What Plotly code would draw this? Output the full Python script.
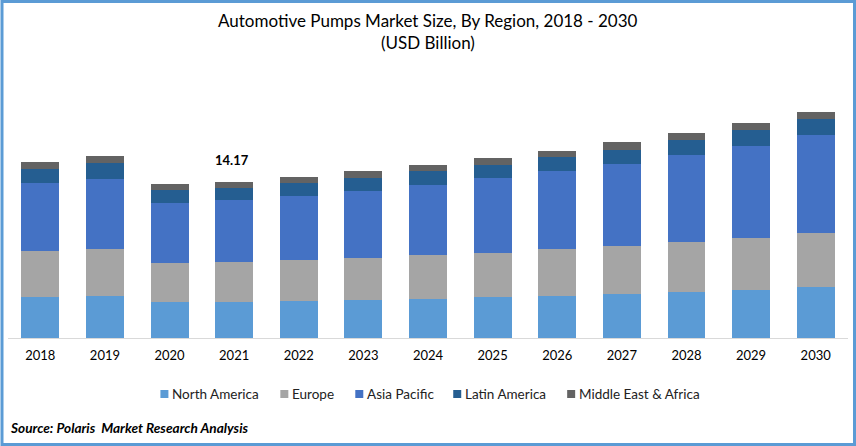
"""
Automotive pumps market size by region, stacked bars.
"""
import plotly.graph_objects as go

years = ["2018", "2019", "2020", "2021", "2022", "2023", "2024", "2025", "2026", "2027", "2028", "2029", "2030"]

north_america = [3.72, 3.81, 3.27, 3.27, 3.36, 3.45, 3.54, 3.72, 3.81, 4.00, 4.18, 4.36, 4.63]
europe = [4.18, 4.27, 3.54, 3.63, 3.72, 3.81, 4.00, 4.00, 4.27, 4.36, 4.54, 4.72, 4.90]
asia_pacific = [6.18, 6.36, 5.45, 5.63, 5.81, 6.09, 6.36, 6.81, 7.08, 7.45, 7.90, 8.36, 8.90]
latin_america = [1.27, 1.45, 1.18, 1.09, 1.18, 1.18, 1.27, 1.18, 1.27, 1.27, 1.36, 1.45, 1.45]
middle_east = [0.64, 0.64, 0.54, 0.55, 0.54, 0.64, 0.54, 0.64, 0.54, 0.73, 0.64, 0.64, 0.64]

series_names = ["North America", "Europe", "Asia Pacific", "Latin America", "Middle East & Africa"]
series_values = [north_america, europe, asia_pacific, latin_america, middle_east]
series_colors = ["#5B9BD5", "#A5A5A5", "#4472C4", "#255E91", "#636363"]

# window size and margins, in pixels
W, H = 856, 446
ML, MR, MT, MB = 7.5, 8, 60, 108
FONT = "Lato"

fig = go.Figure()
for name, values, color in zip(series_names, series_values, series_colors):
    fig.add_trace(go.Bar(x=years, y=values, name=name, marker=dict(color=color, line=dict(width=0))))

plot_w = W - ML - MR
plot_h = H - MT - MB


def px_x(x):
    return (x - ML) / plot_w


def px_y(y):
    return 1 - (y - MT) / plot_h


shapes = [
    # blue frame around the whole picture
    dict(type="rect", xref="paper", yref="paper", x0=px_x(1.5), x1=px_x(W - 1.5), y0=px_y(H - 1.5), y1=px_y(1.5),
         line=dict(color="#5B9BD5", width=3), fillcolor="rgba(0,0,0,0)", layer="above"),
]

annotations = [
    dict(text="Automotive Pumps Market Size, By Region, 2018 - 2030", xref="paper", yref="paper",
         x=px_x(428), y=px_y(21), yanchor="middle", showarrow=False, font=dict(family=FONT, size=17, color="#000000")),
    dict(text="(USD Billion)", xref="paper", yref="paper",
         x=px_x(428), y=px_y(43), yanchor="middle", showarrow=False, font=dict(family=FONT, size=17, color="#000000")),
    # category axis: annotation x is the category index, "2021" would be read as position 2021
    dict(text="<b>14.17</b>", x=years.index("2021"), y=16.17, xshift=-2, yanchor="middle", showarrow=False,
         font=dict(family=FONT, size=13, color="#000000")),
    dict(text="<b><i>Source: Polaris  Market Research Analysis</i></b>", xref="paper", yref="paper",
         x=px_x(8), y=px_y(428), xanchor="left", yanchor="middle", showarrow=False,
         font=dict(family=FONT, size=13.65, color="#000000")),
]

# legend drawn by hand so the swatches sit close to their labels
legend_x = [160, 280, 355, 453, 567]
for name, color, lx in zip(series_names, series_colors, legend_x):
    shapes.append(dict(type="rect", xref="paper", yref="paper", x0=px_x(lx), x1=px_x(lx + 8),
                       y0=px_y(398), y1=px_y(390), fillcolor=color, line=dict(width=0)))
    annotations.append(dict(text=name, xref="paper", yref="paper", x=px_x(lx + 10), y=px_y(393.5), xanchor="left",
                            yanchor="middle", showarrow=False, font=dict(family=FONT, size=13.5, color="#222222")))

fig.update_layout(
    barmode="stack",
    bargap=0.413,
    width=W,
    height=H,
    margin=dict(l=ML, r=MR, t=MT, b=MB, pad=0),
    showlegend=False,
    paper_bgcolor="#ffffff",
    plot_bgcolor="#ffffff",
    shapes=shapes,
    annotations=annotations,
    font=dict(family=FONT),
    xaxis=dict(type="category", range=[-0.5, 12.5], showline=True, linecolor="#D9D9D9", linewidth=1, ticks="",
               showgrid=False, tickfont=dict(family=FONT, size=13, color="#000000"), ticklabelstandoff=5),
    yaxis=dict(range=[0, 25.25], visible=False, showgrid=False, zeroline=False),
)

fig.write_html("out.html", post_script="document.body.style.margin='0';", config={"displayModeBar": False})
